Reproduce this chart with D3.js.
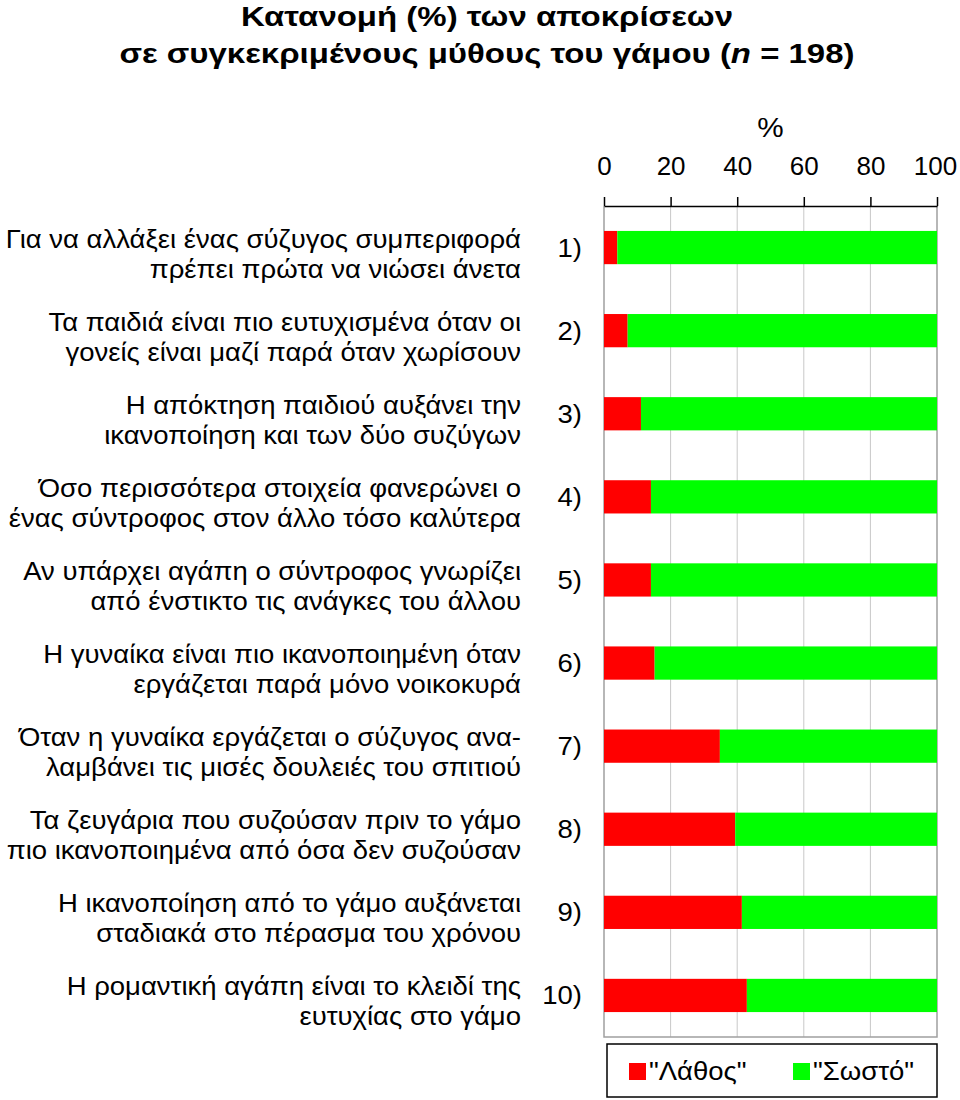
<!DOCTYPE html>
<html><head><meta charset="utf-8">
<script src="https://cdn.jsdelivr.net/npm/d3@7"></script>
<style>body{margin:0;background:#fff}svg{display:block}text{font-family:"Liberation Sans",Arial,sans-serif;fill:#000}</style>
</head><body><svg id="c" width="960" height="1100"></svg>
<script>
const titleLines = ["Κατανομή (%) των αποκρίσεων", "σε συγκεκριμένους μύθους του γάμου (", "n", " = 198)"];
const categories = [
  ["Για να αλλάξει ένας σύζυγος συμπεριφορά", "πρέπει πρώτα να νιώσει άνετα"],
  ["Τα παιδιά είναι πιο ευτυχισμένα όταν οι", "γονείς είναι μαζί παρά όταν χωρίσουν"],
  ["Η απόκτηση παιδιού αυξάνει την", "ικανοποίηση και των δύο συζύγων"],
  ["Όσο περισσότερα στοιχεία φανερώνει ο", "ένας σύντροφος στον άλλο τόσο καλύτερα"],
  ["Αν υπάρχει αγάπη ο σύντροφος γνωρίζει", "από ένστικτο τις ανάγκες του άλλου"],
  ["Η γυναίκα είναι πιο ικανοποιημένη όταν", "εργάζεται παρά μόνο νοικοκυρά"],
  ["Όταν η γυναίκα εργάζεται ο σύζυγος ανα-", "λαμβάνει τις μισές δουλειές του σπιτιού"],
  ["Τα ζευγάρια που συζούσαν πριν το γάμο", "πιο ικανοποιημένα από όσα δεν συζούσαν"],
  ["Η ικανοποίηση από το γάμο αυξάνεται", "σταδιακά στο πέρασμα του  χρόνου"],
  ["Η ρομαντική αγάπη είναι το κλειδί της", "ευτυχίας στο γάμο"]
];
const numbers = ["1)","2)","3)","4)","5)","6)","7)","8)","9)","10)"];
const wrong = [4.0, 7.1, 11.1, 14.1, 14.1, 15.2, 34.8, 39.4, 41.4, 42.9];
const right = [96.0, 92.9, 88.9, 85.9, 85.9, 84.8, 65.2, 60.6, 58.6, 57.1];
const seriesNames = ['"Λάθος"', '"Σωστό"'];
const seriesColors = ["#ff0000", "#00ff00"];
const ticks = [0, 20, 40, 60, 80, 100];

const SX = 1.1; // horizontal stretch of the reference text
const svg = d3.select("#c");
const x = d3.scaleLinear().domain([0, 100]).range([604, 937]);
const y = d3.scaleBand().domain(d3.range(10)).range([206, 1037]).paddingInner(0.6).paddingOuter(0.3);

function stext(g, tx, ty, size, anchor, str) {
  return g.append("text").attr("transform", `translate(${tx},${ty}) scale(${SX},1)`)
    .attr("text-anchor", anchor).attr("font-size", size).text(str);
}

// title
svg.append("text").attr("x", 487).attr("y", 26).attr("text-anchor", "middle")
  .attr("font-size", 28).attr("font-weight", "bold")
  .attr("textLength", 492).attr("lengthAdjust", "spacingAndGlyphs").text(titleLines[0]);
const t2 = svg.append("text").attr("x", 487).attr("y", 63).attr("text-anchor", "middle")
  .attr("font-size", 28).attr("font-weight", "bold")
  .attr("textLength", 735).attr("lengthAdjust", "spacingAndGlyphs");
t2.append("tspan").text(titleLines[1]);
t2.append("tspan").attr("font-style", "italic").text(titleLines[2]);
t2.append("tspan").text(titleLines[3]);

// grid
svg.append("g").selectAll("line").data(ticks.slice(1, -1)).join("line")
  .attr("x1", d => x(d)).attr("x2", d => x(d)).attr("y1", 206).attr("y2", 1037)
  .attr("stroke", "#c8c8c8").attr("stroke-width", 1);
// plot border (left, right, bottom)
svg.append("path").attr("d", `M${x(0)},206V1037H${x(100)}V206`).attr("fill", "none")
  .attr("stroke", "#a0a0a0").attr("stroke-width", 1.5);

// bars
const stack = wrong.map((w, i) => ({i, w, r: right[i]}));
svg.append("g").selectAll("rect").data(stack).join("rect")
  .attr("x", x(0)).attr("y", d => y(d.i)).attr("height", y.bandwidth())
  .attr("width", d => x(d.w) - x(0)).attr("fill", seriesColors[0]);
svg.append("g").selectAll("rect").data(stack).join("rect")
  .attr("x", d => x(d.w)).attr("y", d => y(d.i)).attr("height", y.bandwidth())
  .attr("width", d => x(d.w + d.r) - x(d.w)).attr("fill", seriesColors[1]);

// top axis
const ax = svg.append("g").attr("transform", "translate(0,206)")
  .call(d3.axisTop(x).tickValues(ticks).tickSize(9).tickPadding(22).tickSizeOuter(0));
ax.select(".domain").attr("stroke", "#000").attr("stroke-width", 1.5);
ax.selectAll(".tick line").attr("stroke", "#000").attr("stroke-width", 1.5);
ax.selectAll(".tick text").attr("font-size", 26).attr("font-family", '"Liberation Sans",Arial,sans-serif')
  .attr("fill", "#000").attr("transform", d => d === 100 ? "translate(-2,0)" : null);
stext(svg, x(50), 137, 27, "middle", "%");

// number labels
const ng = svg.append("g");
numbers.forEach((n, i) => stext(ng, 582, y(i) + y.bandwidth() / 2 + 9, 25, "end", n));

// category labels
const cg = svg.append("g");
categories.forEach((d, i) => {
  const c = y(i) + y.bandwidth() / 2;
  d.forEach((s, j) => stext(cg, 521, c + j * 30, 25, "end", s));
});

// legend
const lg = svg.append("g");
lg.append("rect").attr("x", 607).attr("y", 1044).attr("width", 330).attr("height", 53)
  .attr("fill", "#fff").attr("stroke", "#000").attr("stroke-width", 1.5);
const lx = [629, 793];
seriesNames.forEach((n, k) => {
  lg.append("rect").attr("x", lx[k]).attr("y", 1063).attr("width", 17).attr("height", 17).attr("fill", seriesColors[k]);
  stext(lg, lx[k] + 20, 1080, 25, "start", n);
});
</script></body></html>
